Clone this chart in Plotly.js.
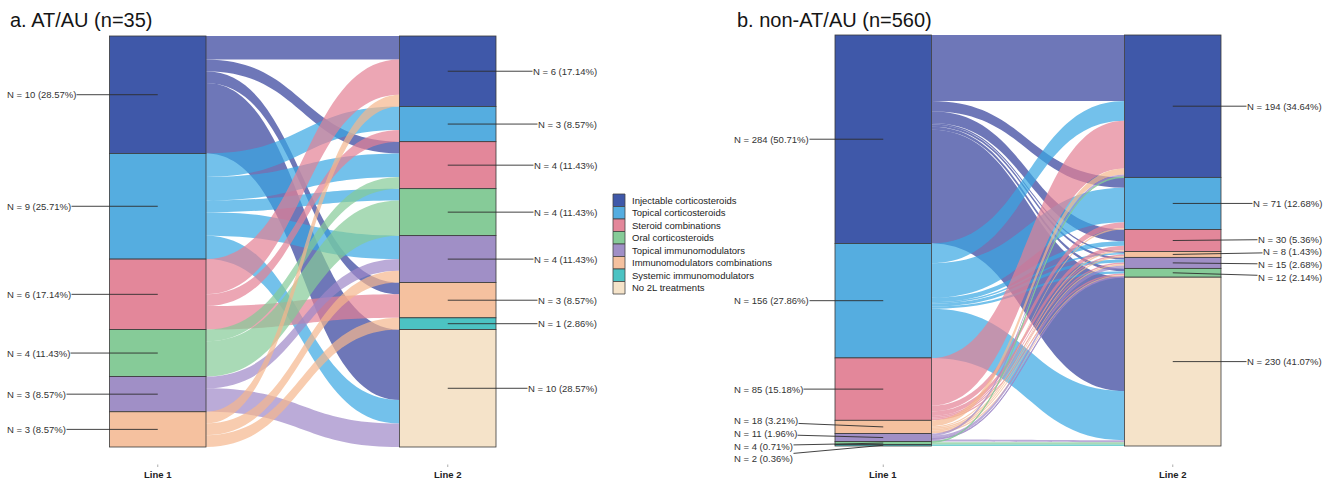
<!DOCTYPE html>
<html>
<head>
<meta charset="utf-8">
<script src="https://cdn.plot.ly/plotly-3.0.1.min.js"></script>
<style>html,body{margin:0;padding:0;background:#fff;} #chart{width:1328px;height:480px;}</style>
</head>
<body>
<div id="chart"></div>
<script>
// ---------------- data ----------------
const categories = ['Injectable corticosteroids','Topical corticosteroids','Steroid combinations','Oral corticosteroids','Topical immunomodulators','Immunomodulators combinations','Systemic immunomodulators','No 2L treatments'];
const axisLabels = ['Line 1','Line 2'];
const panelTitles = ['a. AT/AU (n=35)','b. non-AT/AU (n=560)'];

// Panel a: AT/AU
const aLine1Cats = [0,1,2,3,4,5];
const aLine1N    = [10,9,6,4,3,3];
const aLine2Cats = [0,1,2,3,4,5,6,7];
const aLine2N    = [6,3,4,4,4,3,1,10];
const aFlowFrom  = [0,0,0,0, 1,1,1,1,1, 2,2,2, 3,3, 4,4, 5,5,5];
const aFlowTo    = [0,2,5,7, 1,2,3,4,7, 0,1,5, 2,3, 4,7, 0,4,6];
const aFlowN     = [2,1,1,6, 2,2,1,2,2, 3,1,2, 1,3, 1,2, 1,1,1];

// Panel b: non-AT/AU
const bLine1Cats = [0,1,2,5,4,3,6];
const bLine1N    = [284,156,85,18,11,4,2];
const bLine2Cats = [0,1,2,5,4,3,7];
const bLine2N    = [194,71,30,8,15,12,230];
const bFlowFrom  = [0,0,0,0,0,0,0, 1,1,1,1,1,1,1, 2,2,2,2,2,2, 5,5,5,5,5,5, 4,4,4,4, 3,3, 6];
const bFlowTo    = [0,1,2,5,4,3,7, 0,1,2,5,4,3,7, 0,1,2,5,4,3, 0,1,2,5,4,3, 0,4,3,7, 0,7, 7];
const bFlowN     = [90,14,16,2,3,4,155, 27,47,6,2,4,3,67, 65,8,6,2,2,2, 8,2,2,2,2,2, 3,4,1,3, 1,3, 2];

// ---------------- styles ----------------
const nodeColors = ['#3F58A9','#55ADE0','#E3879A','#86CB98','#A08FC6','#F5C19F','#4CC3C3','#F5E3C9'];
const flowColors = ['rgba(49,61,154,0.7)','rgba(55,166,226,0.7)','rgba(228,128,148,0.7)','rgba(132,202,151,0.7)',
                    'rgba(158,135,199,0.7)','rgba(245,182,141,0.7)','rgba(62,191,191,0.7)','rgba(240,220,190,0.7)'];
const W = 1328, H = 480;
const FONT = 'Liberation Sans, Arial, Helvetica, sans-serif';
const thick = 96.5;

const panels = [
  {title: panelTitles[0], titleX: 8, l1c: aLine1Cats, l1n: aLine1N, l2c: aLine2Cats, l2n: aLine2N,
   from: aFlowFrom, to: aFlowTo, n: aFlowN, box: {x0: 109.5, x1: 496, y0: 36, y1: 447}, labL: 6, labR: 598},
  {title: panelTitles[1], titleX: 735, l1c: bLine1Cats, l1n: bLine1N, l2c: bLine2Cats, l2n: bLine2N,
   from: bFlowFrom, to: bFlowTo, n: bFlowN, box: {x0: 835, x1: 1221, y0: 35, y1: 446}, labL: 733, labR: 1323}
];

function centersFrac(vals) {
  const tot = vals.reduce((a, b) => a + b, 0);
  let cum = 0;
  return vals.map(v => { const c = (cum + v / 2) / tot; cum += v; return c; });
}
function spread(centers, gap) {
  const y = centers.slice();
  for (let it = 0; it < 3000; it++) {
    let moved = false;
    for (let i = 0; i < y.length - 1; i++) {
      const d = y[i + 1] - y[i];
      if (d < gap - 1e-4) { const o = gap - d; y[i] -= o * 0.45; y[i + 1] += o * 0.55; moved = true; }
    }
    if (!moved) break;
  }
  return y;
}

const traces = [];
const annotations = [];
const shapes = [];

panels.forEach(p => {
  const bw = p.box.x1 - p.box.x0, bh = p.box.y1 - p.box.y0;
  const total = p.l1n.reduce((a, b) => a + b, 0);
  const c1 = centersFrac(p.l1n), c2 = centersFrac(p.l2n);
  const xf = (thick / 2) / bw;
  const nodeX = [], nodeY = [], nodeCol = [], nodeCd = [];
  p.l1c.forEach((c, i) => { nodeX.push(xf); nodeY.push(c1[i]); nodeCol.push(nodeColors[c]); nodeCd.push(categories[c]); });
  p.l2c.forEach((c, i) => { nodeX.push(1 - xf); nodeY.push(c2[i]); nodeCol.push(nodeColors[c]); nodeCd.push(categories[c]); });
  const src = p.from.map(c => p.l1c.indexOf(c));
  const tgt = p.to.map(c => p.l1c.length + p.l2c.indexOf(c));
  traces.push({
    type: 'sankey', arrangement: 'fixed',
    domain: {x: [p.box.x0 / W, p.box.x1 / W], y: [1 - p.box.y1 / H, 1 - p.box.y0 / H]},
    node: {pad: 0, thickness: thick, x: nodeX, y: nodeY, color: nodeCol, label: nodeX.map(() => ''),
           customdata: nodeCd, hovertemplate: '%{customdata}: %{value}<extra></extra>',
           line: {color: '#3a3a3a', width: 0.8}},
    link: {source: src, target: tgt, value: p.n, color: p.from.map(c => flowColors[c]),
           line: {width: 0}, hovertemplate: '%{value}<extra></extra>'}
  });

  // node value labels with leader lines
  const cols = [
    {vals: p.l1n, cf: c1, cx: p.box.x0 + thick / 2, tail: p.labL, anchor: 'left'},
    {vals: p.l2n, cf: c2, cx: p.box.x1 - thick / 2, tail: p.labR, anchor: 'right'}
  ];
  cols.forEach(col => {
    const cy = col.cf.map(f => p.box.y0 + f * bh);
    const ly = spread(cy, 12.7);
    col.vals.forEach((v, i) => {
      annotations.push({
        xref: 'paper', yref: 'paper', x: col.cx / W, y: 1 - cy[i] / H,
        axref: 'pixel', ayref: 'pixel', ax: col.tail - col.cx, ay: ly[i] - cy[i],
        showarrow: true, arrowhead: 0, arrowwidth: 0.9, arrowcolor: '#2e2e2e',
        xanchor: col.anchor, yanchor: 'middle', borderpad: 0,
        text: 'N = ' + v + ' (' + (v / total * 100).toFixed(2) + '%)',
        font: {family: FONT, size: 9.5, color: '#333'}
      });
    });
  });

  // axis labels
  [p.box.x0 + thick / 2, p.box.x1 - thick / 2].forEach((x, k) => {
    annotations.push({xref: 'paper', yref: 'paper', x: x / W, y: 1 - 474 / H, showarrow: false,
      xanchor: 'center', yanchor: 'middle', text: '<b>' + axisLabels[k] + '</b>',
      font: {family: FONT, size: 9.5, color: '#222'}});
    shapes.push({type: 'line', xref: 'paper', yref: 'paper', x0: x / W, x1: x / W,
      y0: 1 - 464.5 / H, y1: 1 - 467 / H, line: {color: '#999', width: 0.8}});
  });

  // title
  annotations.push({xref: 'paper', yref: 'paper', x: p.titleX / W, y: 1 - 20 / H, showarrow: false,
    xanchor: 'left', yanchor: 'middle', text: p.title, font: {family: FONT, size: 20, color: '#151515'}});
});

// legend
const legX = 613, legTop = 194, legStep = 12.5, legSq = 12;
categories.forEach((c, i) => {
  const y0 = legTop + i * legStep;
  shapes.push({type: 'rect', xref: 'paper', yref: 'paper', x0: legX / W, x1: (legX + legSq) / W,
    y0: 1 - y0 / H, y1: 1 - (y0 + legStep) / H, fillcolor: nodeColors[i], line: {color: '#444', width: 0.8}});
  annotations.push({xref: 'paper', yref: 'paper', x: (legX + legSq + 5) / W, y: 1 - (y0 + legStep / 2) / H,
    showarrow: false, xanchor: 'left', yanchor: 'middle', text: c, font: {family: FONT, size: 9.5, color: '#222'}});
});

Plotly.newPlot('chart', traces, {
  width: W, height: H, margin: {l: 0, r: 0, t: 0, b: 0},
  paper_bgcolor: '#fff', plot_bgcolor: '#fff', showlegend: false,
  annotations: annotations, shapes: shapes, font: {family: FONT}
}, {displayModeBar: false, staticPlot: false});
</script>
</body>
</html>
